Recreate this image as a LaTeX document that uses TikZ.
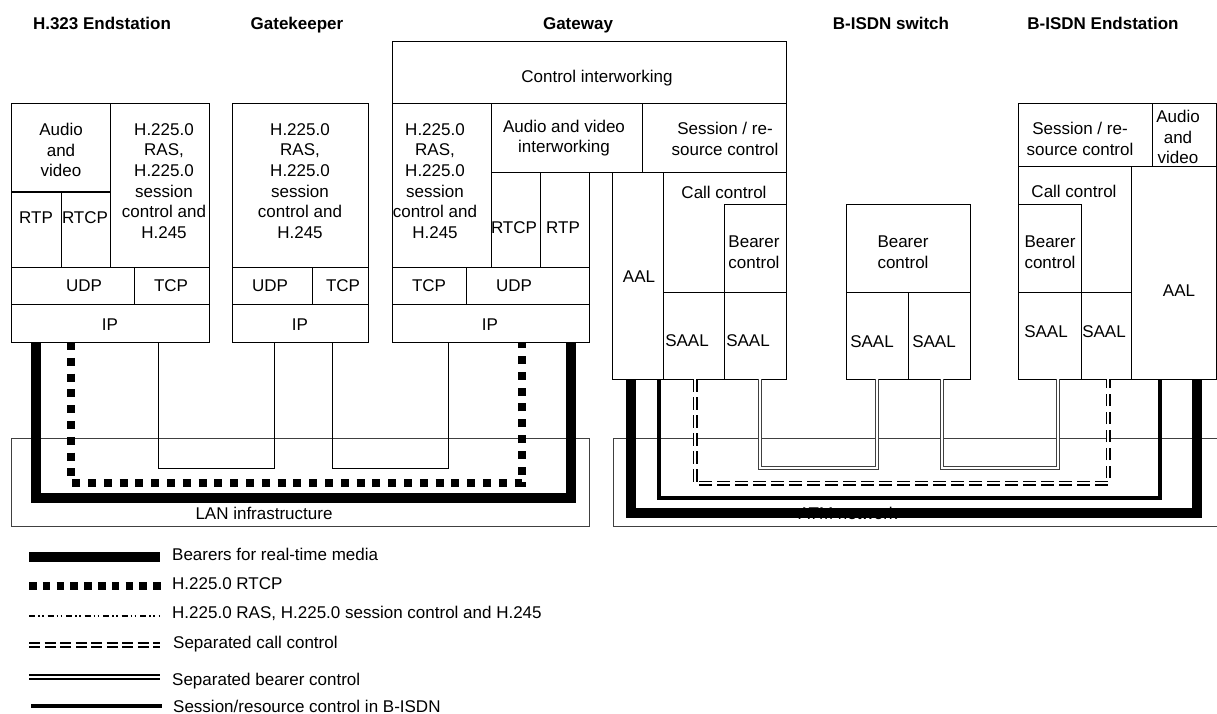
\documentclass[tikz,border=0pt]{standalone}
\usepackage{fontspec}
\setmainfont{Liberation Sans}
\newcommand\bbox[5]{\node[bx, minimum width={#4-#2}, minimum height={#5-#3}] (#1) at (#2,#3) {};}
\begin{document}
\begin{tikzpicture}[x=1pt,y=-1pt,
 bx/.style={draw, line width=1pt, inner sep=0pt, outer sep=0pt, anchor=north west},
 net/.style={bx, draw=black!75},
 tx/.style={font=\fontsize{17pt}{20.7pt}\selectfont, align=center, inner sep=0pt},
 ttl/.style={font=\fontsize{17pt}{20.7pt}\selectfont\bfseries, inner sep=0pt, text height=12.2pt, text depth=0pt},
 lg/.style={font=\fontsize{17pt}{20.7pt}\selectfont, inner sep=0pt, anchor=west, text height=12.2pt, text depth=0pt},
 bearer/.style={line width=10pt},
 rtcp/.style={line width=8pt, dash pattern=on 8pt off 7.8pt},
 ras/.style={line width=1pt},
 callctl/.style={double, line width=1.7pt, double distance=1.6pt, dash pattern=on 12.5pt off 5.5pt},
 bearctl/.style={double=white, draw=black!75, line width=1pt, double distance=2pt},
 sessctl/.style={line width=4.5pt},
]
\useasboundingbox (0,0) rectangle (1217,714);

% titles
\node[ttl] (t1) at (102,23) {H.323 Endstation};
\node[ttl] (t2) at (297,23) {Gatekeeper};
\node[ttl] (t3) at (578,23) {Gateway};
\node[ttl] (t4) at (891,23) {B-ISDN switch};
\node[ttl] (t5) at (1103,23) {B-ISDN Endstation};

% H.323 endstation
\bbox{avE}{11}{104}{110}{192}
\bbox{rtpE}{11}{192}{61}{267}
\bbox{rtcpE}{61}{192}{110}{267}
\bbox{hE}{110}{104}{209}{267}
\bbox{udpE}{11}{267}{134}{304}
\bbox{tcpE}{134}{267}{209}{304}
\bbox{ipE}{11}{304}{209}{342}
\node[tx] (avEt) at (61,150) {Audio\\and\\video};
\node[tx] (rtpEt) at (36,218) {RTP};
\node[tx] (rtcpEt) at (85,218) {RTCP};
\node[tx] (hEt) at (164,181) {H.225.0\\RAS,\\H.225.0\\session\\control and\\H.245};
\node[tx] (udpEt) at (84,286) {UDP};
\node[tx] (tcpEt) at (171,286) {TCP};
\node[tx] (ipEt) at (110,325) {IP};

% Gatekeeper
\bbox{hK}{232}{104}{368}{267}
\bbox{udpK}{232}{267}{312}{304}
\bbox{tcpK}{312}{267}{368}{304}
\bbox{ipK}{232}{304}{368}{342}
\node[tx] (hKt) at (300,181) {H.225.0\\RAS,\\H.225.0\\session\\control and\\H.245};
\node[tx] (udpKt) at (270,286) {UDP};
\node[tx] (tcpKt) at (343,286) {TCP};
\node[tx] (ipKt) at (300,325) {IP};

% Gateway
\bbox{ciG}{392}{42}{786}{104}
\bbox{hG}{392}{104}{491}{267}
\bbox{avG}{491}{104}{642}{173}
\bbox{srG}{642}{104}{786}{173}
\bbox{rtcpG}{491}{173}{540}{267}
\bbox{rtpG}{540}{173}{589}{267}
\bbox{tcpG}{392}{267}{466}{304}
\bbox{udpG}{466}{267}{589}{304}
\bbox{ipG}{392}{304}{589}{342}
\bbox{aalG}{612}{173}{663}{379}
\bbox{ccG}{663}{173}{786}{292}
\bbox{bcG}{724}{204}{786}{292}
\bbox{saalGa}{663}{292}{724}{379}
\bbox{saalGb}{724}{292}{786}{379}
\node[tx] (ciGt) at (597,78) {Control interworking};
\node[tx] (hGt) at (435,181) {H.225.0\\RAS,\\H.225.0\\session\\control and\\H.245};
\node[tx] (avGt) at (564,138) {Audio and video\\interworking};
\node[tx] (srGt) at (725,139) {Session / re-\\source control};
\node[tx] (rtcpGt) at (514,228) {RTCP};
\node[tx] (rtpGt) at (563,228) {RTP};
\node[tx] (tcpGt) at (429,286) {TCP};
\node[tx] (udpGt) at (514,286) {UDP};
\node[tx] (ipGt) at (490,325) {IP};
\node[tx] (aalGt) at (639,277) {AAL};
\node[tx] (ccGt) at (724,192) {Call control};
\node[tx] (bcGt) at (754,252) {Bearer\\control};
\node[tx] (saalGat) at (687,341) {SAAL};
\node[tx] (saalGbt) at (748,341) {SAAL};

% B-ISDN switch
\bbox{bcS}{846}{204}{970}{292}
\bbox{saalSa}{846}{292}{908}{379}
\bbox{saalSb}{908}{292}{970}{379}
\node[tx] (bcSt) at (903,252) {Bearer\\control};
\node[tx] (saalSat) at (872,342) {SAAL};
\node[tx] (saalSbt) at (934,342) {SAAL};

% B-ISDN endstation
\bbox{srB}{1018}{104}{1152}{167}
\bbox{avB}{1152}{104}{1216}{167}
\bbox{ccB}{1018}{167}{1131}{292}
\bbox{bcB}{1018}{204}{1081}{292}
\bbox{saalBa}{1018}{292}{1081}{379}
\bbox{saalBb}{1081}{292}{1131}{379}
\bbox{aalB}{1131}{167}{1216}{379}
\node[tx] (srBt) at (1080,139) {Session / re-\\source control};
\node[tx] (avBt) at (1178,137) {Audio\\and\\video};
\node[tx] (ccBt) at (1074,191) {Call control};
\node[tx] (bcBt) at (1050,252) {Bearer\\control};
\node[tx] (saalBat) at (1046,332) {SAAL};
\node[tx] (saalBbt) at (1104,332) {SAAL};
\node[tx] (aalBt) at (1179,291) {AAL};

% networks
\node[net, minimum width=578, minimum height=88] (lan) at (11,438) {};
\node[net, minimum width=610, minimum height=88] (atm) at (613,438) {};
\node[tx] (lant) at (264,513) {LAN infrastructure};
\node[tx] (atmt) at (848,513) {ATM network};

% LAN connectors
\coordinate (s1) at (158,468); \coordinate (s2) at (274,468);
\coordinate (s3) at (332,468); \coordinate (s4) at (448,468);
\draw[ras] (ipE.south -| s1) -- (s1) -- (s2) -- (ipK.south -| s2);
\draw[ras] (ipK.south -| s3) -- (s3) -- (s4) -- (ipG.south -| s4);
\coordinate (r1) at (71,483); \coordinate (r2) at (522,483);
\draw[rtcp] (ipE.south -| r1) -- (r1) -- (r2) -- (ipG.south -| r2);
\coordinate (b1) at (36,498); \coordinate (b2) at (571,498);
\draw[bearer] (ipE.south -| b1) -- (b1) -- (b2) -- (ipG.south -| b2);

% ATM connectors
\coordinate (e1) at (760,468); \coordinate (e2) at (877,468);
\coordinate (e3) at (942,468); \coordinate (e4) at (1058,468);
\draw[bearctl] (saalGb.south -| e1) -- (e1) -- (e2) -- (saalSa.south -| e2);
\draw[bearctl] (saalSb.south -| e3) -- (e3) -- (e4) -- (saalBa.south -| e4);
\coordinate (d1) at (695,483); \coordinate (d2) at (1108,483);
\draw[callctl] (saalGa.south -| d1) -- (d1) -- (d2) -- (saalBb.south -| d2);
\coordinate (c1) at (659,498); \coordinate (c2) at (1160,498);
\draw[sessctl] (aalG.south -| c1) -- (c1) -- (c2) -- (aalB.south -| c2);
\coordinate (a1) at (631,513); \coordinate (a2) at (1197,513);
\draw[bearer] (aalG.south -| a1) -- (a1) -- (a2) -- (aalB.south -| a2);

% legend
\coordinate (L1a) at (29,557); \coordinate (L1b) at (160,557);
\draw[bearer] (L1a) -- (L1b);
\node[lg] (L1t) at (172,554) {Bearers for real-time media};
\coordinate (L2a) at (29,586); \coordinate (L2b) at (161,586);
\draw[line width=7.5pt, dash pattern=on 7.5pt off 6.3pt] (L2a) -- (L2b);
\node[lg] (L2t) at (172,583) {H.225.0 RTCP};
\coordinate (L3a) at (29,616); \coordinate (L3b) at (160,616);
\draw[line width=1.2pt, dash pattern=on 6pt off 3pt on 1.5pt off 2.5pt on 1.5pt off 4pt] (L3a) -- (L3b);
\node[lg] (L3t) at (172,612) {H.225.0 RAS, H.225.0 session control and H.245};
\coordinate (L4a) at (29,645); \coordinate (L4b) at (160,645);
\draw[double, line width=1.8pt, double distance=1.6pt, dash pattern=on 11pt off 4.5pt] (L4a) -- (L4b);
\node[lg] (L4t) at (173,642) {Separated call control};
\coordinate (L5a) at (29,677); \coordinate (L5b) at (160,677);
\draw[double, line width=1.5pt, double distance=2.2pt] (L5a) -- (L5b);
\node[lg] (L5t) at (172,679) {Separated bearer control};
\coordinate (L6a) at (31,706); \coordinate (L6b) at (162,706);
\draw[sessctl] (L6a) -- (L6b);
\node[lg] (L6t) at (173,706) {Session/resource control in B-ISDN};
\end{tikzpicture}
\end{document}
